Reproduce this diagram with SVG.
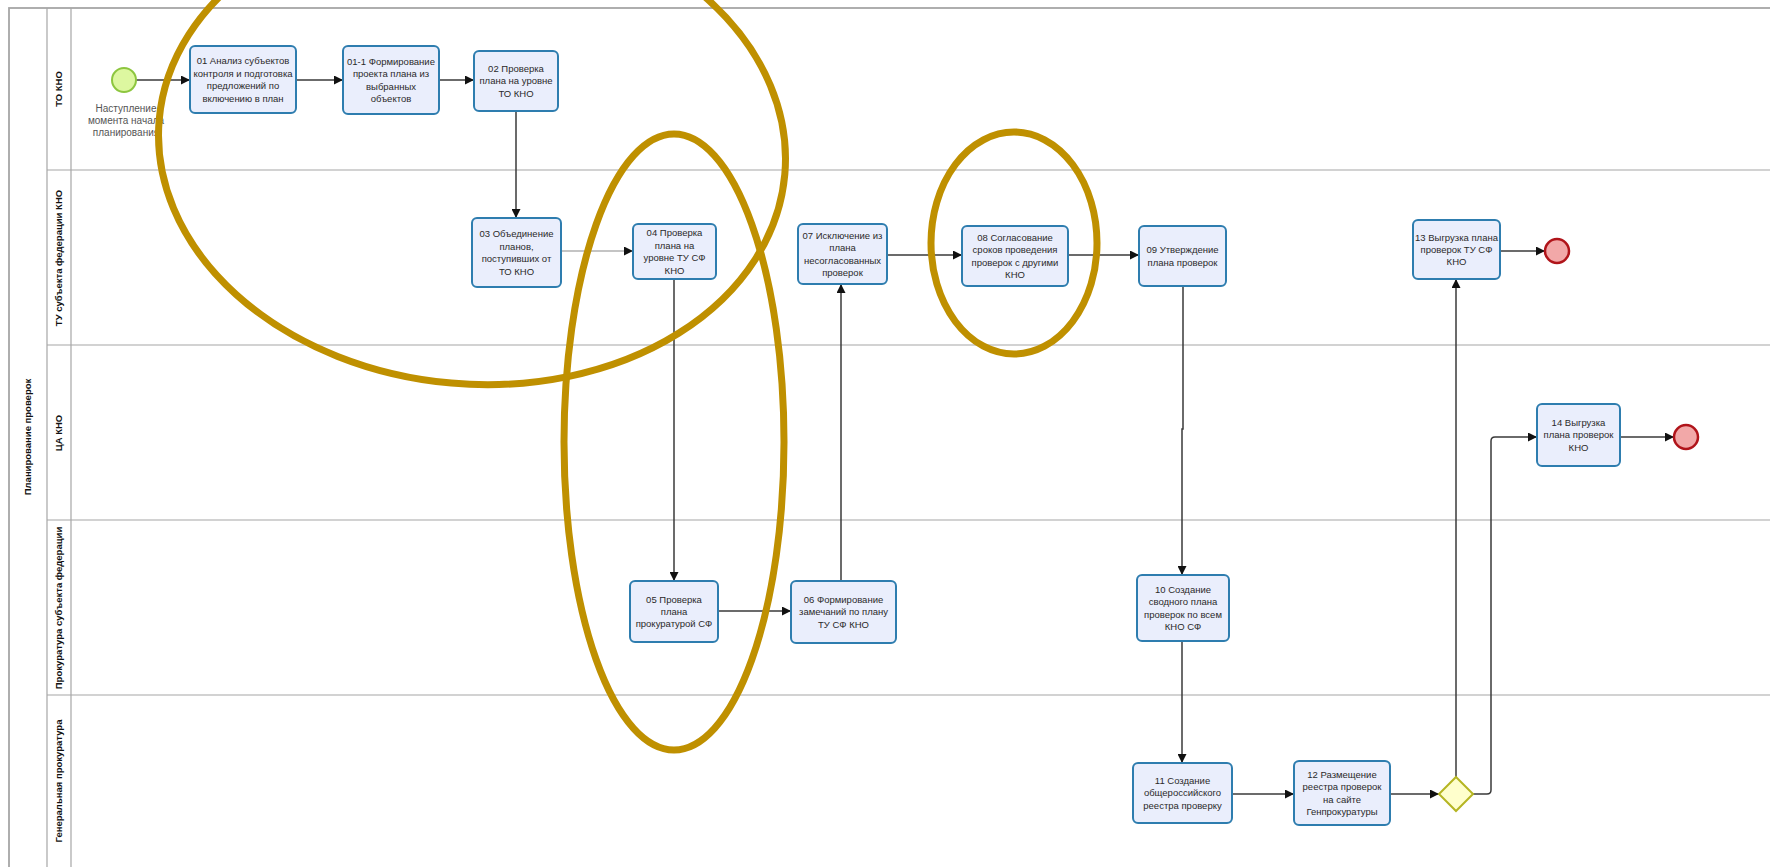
<svg xmlns="http://www.w3.org/2000/svg" width="1770" height="867" viewBox="0 0 1770 867">
<style>
.task rect{fill:#EAEEFC;stroke:#2E7DAF;stroke-width:2}
.task text,.lbl{font-family:"Liberation Sans",Arial,sans-serif;font-size:9.5px;fill:#2a2a2a;text-anchor:middle}
.lane{font-family:"Liberation Sans",Arial,sans-serif;font-size:9.5px;font-weight:bold;fill:#111;text-anchor:middle}
.pl{stroke:#a6a6a6;fill:none}
.conn path{fill:none;stroke:#3a3a3a;stroke-width:1.5}
.ann{fill:none;stroke:#BF9000;stroke-width:7}
</style>
<defs>
<marker id="arr" markerUnits="userSpaceOnUse" markerWidth="10" markerHeight="9" refX="9" refY="4.5" orient="auto">
<path d="M0,0 L9,4.5 L0,9 z" fill="#111"/>
</marker>
</defs>
<rect width="1770" height="867" fill="#fff"/>
<g id="pool">
<rect x="9" y="8" width="1800" height="900" class="pl" stroke-width="1.8"/>
<line x1="47" y1="8" x2="47" y2="867" class="pl" stroke-width="1.2"/>
<line x1="71" y1="8" x2="71" y2="867" class="pl" stroke-width="1.2"/>
<line x1="47" y1="170" x2="1770" y2="170" class="pl" stroke-width="1.2"/>
<line x1="47" y1="345" x2="1770" y2="345" class="pl" stroke-width="1.2"/>
<line x1="47" y1="520" x2="1770" y2="520" class="pl" stroke-width="1.2"/>
<line x1="47" y1="695" x2="1770" y2="695" class="pl" stroke-width="1.2"/>
<text class="lane" transform="translate(31,437) rotate(-90)">Планирование проверок</text>
<text class="lane" transform="translate(62,89) rotate(-90)">ТО КНО</text>
<text class="lane" transform="translate(62,258) rotate(-90)">ТУ субъекта федерации КНО</text>
<text class="lane" transform="translate(62,433) rotate(-90)">ЦА КНО</text>
<text class="lane" transform="translate(62,608) rotate(-90)">Прокуратура субъекта федерации</text>
<text class="lane" transform="translate(62,781) rotate(-90)">Генеральная прокуратура</text>
</g>
<g class="conn" id="connectors">
<path d="M136,80 H190" marker-end="url(#arr)"/>
<path d="M296,80 H343" marker-end="url(#arr)"/>
<path d="M439,80 H474" marker-end="url(#arr)"/>
<path d="M516,111 V218" marker-end="url(#arr)"/>
<path d="M561,251 H633" marker-end="url(#arr)" style="stroke:#b0b0b0"/>
<path d="M674,279 V581" marker-end="url(#arr)"/>
<path d="M718,611 H791" marker-end="url(#arr)"/>
<path d="M841,581 V284" marker-end="url(#arr)"/>
<path d="M887,255 H962" marker-end="url(#arr)"/>
<path d="M1068,255 H1139" marker-end="url(#arr)"/>
<path d="M1183,286 V429 H1182 V575" marker-end="url(#arr)"/>
<path d="M1182,641 V763" marker-end="url(#arr)"/>
<path d="M1232,794 H1294" marker-end="url(#arr)"/>
<path d="M1390,794 H1439" marker-end="url(#arr)"/>
<path d="M1456,777 V279" marker-end="url(#arr)"/>
<path d="M1473,794 H1487 Q1491,794 1491,790 V441 Q1491,437 1495,437 H1537" marker-end="url(#arr)"/>
<path d="M1500,251 H1545" marker-end="url(#arr)"/>
<path d="M1620,437 H1674" marker-end="url(#arr)"/>
</g>
<g id="start">
<circle cx="124" cy="80" r="12" fill="#DDF7A0" stroke="#8DC63F" stroke-width="2"/>
<text class="lbl" style="font-size:10px;fill:#555"><tspan x="126" y="111.5">Наступление</tspan><tspan x="126" dy="12">момента начала</tspan><tspan x="126" dy="12">планирования</tspan></text>
</g>
<g id="t01" class="task"><rect x="190" y="46" width="106" height="67" rx="5"/><text><tspan x="243" y="64.3">01 Анализ субъектов</tspan><tspan x="243" dy="12.4">контроля и подготовка</tspan><tspan x="243" dy="12.4">предложений по</tspan><tspan x="243" dy="12.4">включению в план</tspan></text></g>
<g id="t01-1" class="task"><rect x="343" y="46" width="96" height="68" rx="5"/><text><tspan x="391" y="64.8">01-1 Формирование</tspan><tspan x="391" dy="12.4">проекта плана из</tspan><tspan x="391" dy="12.4">выбранных</tspan><tspan x="391" dy="12.4">объектов</tspan></text></g>
<g id="t02" class="task"><rect x="474" y="51" width="84" height="60" rx="5"/><text><tspan x="516" y="72">02 Проверка</tspan><tspan x="516" dy="12.4">плана на уровне</tspan><tspan x="516" dy="12.4">ТО КНО</tspan></text></g>
<g id="t03" class="task"><rect x="472" y="218" width="89" height="69" rx="5"/><text><tspan x="516.5" y="237.3">03 Объединение</tspan><tspan x="516.5" dy="12.4">планов,</tspan><tspan x="516.5" dy="12.4">поступивших от</tspan><tspan x="516.5" dy="12.4">ТО КНО</tspan></text></g>
<g id="t04" class="task"><rect x="633" y="224" width="83" height="55" rx="5"/><text><tspan x="674.5" y="236.3">04 Проверка</tspan><tspan x="674.5" dy="12.4">плана на</tspan><tspan x="674.5" dy="12.4">уровне ТУ СФ</tspan><tspan x="674.5" dy="12.4">КНО</tspan></text></g>
<g id="t07" class="task"><rect x="798" y="224" width="89" height="60" rx="5"/><text><tspan x="842.5" y="238.8">07 Исключение из</tspan><tspan x="842.5" dy="12.4">плана</tspan><tspan x="842.5" dy="12.4">несогласованных</tspan><tspan x="842.5" dy="12.4">проверок</tspan></text></g>
<g id="t08" class="task"><rect x="962" y="226" width="106" height="60" rx="5"/><text><tspan x="1015" y="240.8">08 Согласование</tspan><tspan x="1015" dy="12.4">сроков проведения</tspan><tspan x="1015" dy="12.4">проверок с другими</tspan><tspan x="1015" dy="12.4">КНО</tspan></text></g>
<g id="t09" class="task"><rect x="1139" y="226" width="87" height="60" rx="5"/><text><tspan x="1182.5" y="253.2">09 Утверждение</tspan><tspan x="1182.5" dy="12.4">плана проверок</tspan></text></g>
<g id="t13" class="task"><rect x="1413" y="220" width="87" height="59" rx="5"/><text><tspan x="1456.5" y="240.5">13 Выгрузка плана</tspan><tspan x="1456.5" dy="12.4">проверок ТУ СФ</tspan><tspan x="1456.5" dy="12.4">КНО</tspan></text></g>
<g id="end13"><circle cx="1557" cy="251" r="12" fill="#F2A8A8" stroke="#B0141A" stroke-width="2.5"/></g>
<g id="t14" class="task"><rect x="1537" y="404" width="83" height="62" rx="5"/><text><tspan x="1578.5" y="426">14 Выгрузка</tspan><tspan x="1578.5" dy="12.4">плана проверок</tspan><tspan x="1578.5" dy="12.4">КНО</tspan></text></g>
<g id="end14"><circle cx="1686" cy="437" r="12" fill="#F2A8A8" stroke="#B0141A" stroke-width="2.5"/></g>
<g id="t05" class="task"><rect x="630" y="581" width="88" height="61" rx="5"/><text><tspan x="674" y="602.5">05 Проверка</tspan><tspan x="674" dy="12.4">плана</tspan><tspan x="674" dy="12.4">прокуратурой СФ</tspan></text></g>
<g id="t06" class="task"><rect x="791" y="581" width="105" height="62" rx="5"/><text><tspan x="843.5" y="603">06 Формирование</tspan><tspan x="843.5" dy="12.4">замечаний по плану</tspan><tspan x="843.5" dy="12.4">ТУ СФ КНО</tspan></text></g>
<g id="t10" class="task"><rect x="1137" y="575" width="92" height="66" rx="5"/><text><tspan x="1183" y="592.8">10 Создание</tspan><tspan x="1183" dy="12.4">сводного плана</tspan><tspan x="1183" dy="12.4">проверок по всем</tspan><tspan x="1183" dy="12.4">КНО СФ</tspan></text></g>
<g id="t11" class="task"><rect x="1133" y="763" width="99" height="60" rx="5"/><text><tspan x="1182.5" y="784">11 Создание</tspan><tspan x="1182.5" dy="12.4">общероссийского</tspan><tspan x="1182.5" dy="12.4">реестра проверку</tspan></text></g>
<g id="t12" class="task"><rect x="1294" y="761" width="96" height="64" rx="5"/><text><tspan x="1342" y="777.8">12 Размещение</tspan><tspan x="1342" dy="12.4">реестра проверок</tspan><tspan x="1342" dy="12.4">на сайте</tspan><tspan x="1342" dy="12.4">Генпрокуратуры</tspan></text></g>
<g id="gateway"><path d="M1456,777 L1473,794 L1456,811 L1439,794 z" fill="#FFFFCC" stroke="#B5B522" stroke-width="2"/></g>
<g id="annotations">
<ellipse class="ann" cx="472" cy="147" rx="314" ry="237" transform="rotate(5 472 147)"/>
<ellipse class="ann" cx="674" cy="442" rx="110" ry="308"/>
<ellipse class="ann" cx="1014" cy="243" rx="83" ry="111"/>
</g>
</svg>
